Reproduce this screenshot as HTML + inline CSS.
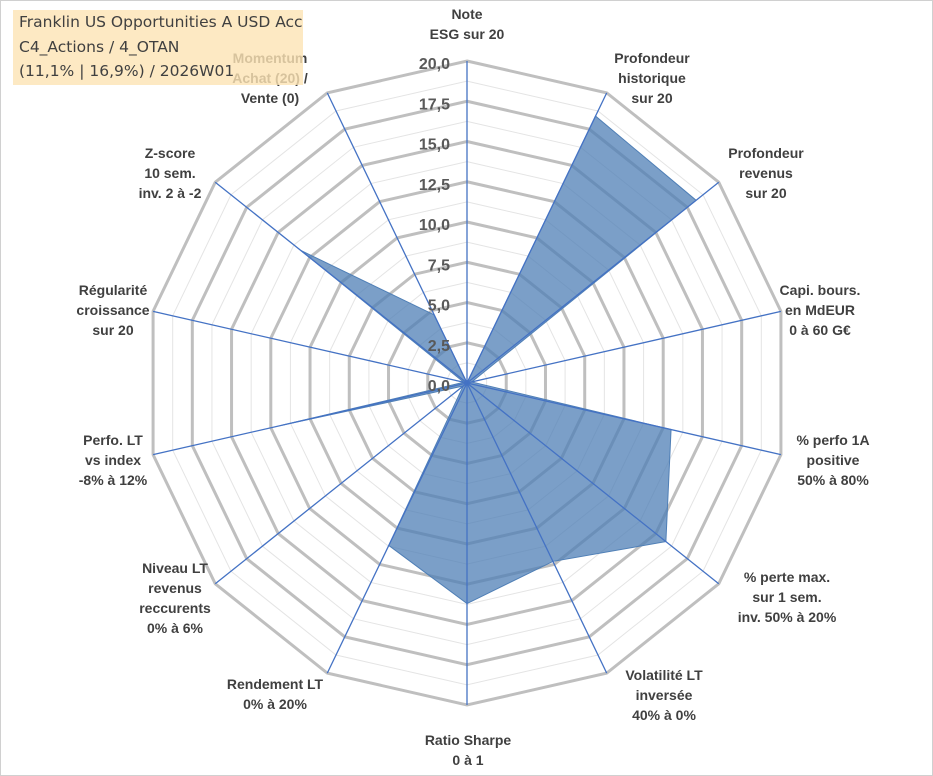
<!DOCTYPE html>
<html><head><meta charset="utf-8"><style>
body{margin:0;background:#fff}
#wrap{position:relative;width:933px;height:776px;overflow:hidden;font-family:"Liberation Sans",Arial,sans-serif}
svg{position:absolute;left:0;top:0}
.title{position:absolute;left:13px;top:10px;width:290px;height:75px;background:rgba(252,228,180,0.8);font-family:"DejaVu Sans","Liberation Sans",sans-serif;font-size:15.5px;color:#404040;line-height:24.5px;padding:0 0 0 6px;box-sizing:border-box}
</style></head><body>
<div id="wrap">
<svg id="chart" width="933" height="776"></svg>
<div class="title">Franklin US Opportunities A USD Acc<br>C4_Actions / 4_OTAN<br>(11,1% | 16,9%) / 2026W01</div>
</div>
<script>
const categories=[["Note","ESG sur 20"],["Profondeur","historique","sur 20"],["Profondeur","revenus","sur 20"],["Capi. bours.","en MdEUR","0 à 60 G€"],["% perfo 1A","positive","50% à 80%"],["% perte max.","sur 1 sem.","inv. 50% à 20%"],["Volatilité LT","inversée","40% à 0%"],["Ratio Sharpe","0 à 1"],["Rendement LT","0% à 20%"],["Niveau LT","revenus","reccurents","0% à 6%"],["Perfo. LT","vs index","-8% à 12%"],["Régularité","croissance","sur 20"],["Z-score","10 sem.","inv. 2 à -2"],["Momentum","Achat (20) /","Vente (0)"]];
const values=[0,18.4,18.2,0.3,13.0,15.8,12.3,13.7,11.2,0.3,11.8,0.2,13.2,4.7];
const ticks=["0,0","2,5","5,0","7,5","10,0","12,5","15,0","17,5","20,0"];
const tickValues=[0,2.5,5,7.5,10,12.5,15,17.5,20];
const labelPos=[[467,14],[652,58],[766,153],[820,290],[833,440],[787,577],[664,675],[468,740],[275,684],[175,568],[113,440],[113,290],[170,153],[270,58]];
const cx=467,cy=383,R=322,maxV=20,N=categories.length;
const svg=document.getElementById('chart');const NS='http://www.w3.org/2000/svg';
function ang(i){return -Math.PI/2+i*2*Math.PI/N;}
function pt(i,v){const r=v/maxV*R;return [cx+r*Math.cos(ang(i)),cy+r*Math.sin(ang(i))];}
function mk(t,a){const e=document.createElementNS(NS,t);for(const k in a)e.setAttribute(k,a[k]);svg.appendChild(e);return e;}
// minor rings
for(let v=1.25;v<maxV;v+=2.5){const p=[];for(let i=0;i<N;i++)p.push(pt(i,v).join(','));
const e=mk('polygon',{points:p.join(' '),fill:'none',stroke:'#e4e4e4','stroke-width':1});

}
tickValues.forEach(v=>{if(v===0)return;const p=[];for(let i=0;i<N;i++)p.push(pt(i,v).join(','));
const e=mk('polygon',{points:p.join(' '),fill:'none',stroke:'#bfbfbf','stroke-width':3});

});
// data
const dp=values.map((v,i)=>pt(i,v).join(',')).join(' ');
const poly=mk('polygon',{points:dp,fill:'#4f7fb6','fill-opacity':0.75,stroke:'#4f7fb6','stroke-width':1});


// spokes
for(let i=0;i<N;i++){const p=pt(i,maxV);const e=mk('line',{x1:cx,y1:cy,x2:p[0],y2:p[1],stroke:'#4472c4','stroke-width':1.3});

}
// ticks
tickValues.forEach((v,k)=>{const t=mk('text',{x:450,y:cy-v/maxV*R+8,'text-anchor':'end','font-size':16,'font-weight':'bold',fill:'#595959'});t.textContent=ticks[k];

});
// labels
categories.forEach((lines,i)=>{const t=mk('text',{'text-anchor':'middle','font-size':14,'font-weight':'bold',fill:'#404040'});


lines.forEach((l,j)=>{const s=document.createElementNS(NS,'tspan');s.setAttribute('x',labelPos[i][0]);s.setAttribute('y',labelPos[i][1]+j*20+5);s.textContent=l;t.appendChild(s);});});
mk('rect',{x:0.5,y:0.5,width:932,height:775,fill:'none',stroke:'#d0d0d0'});
</script>
</body></html>
